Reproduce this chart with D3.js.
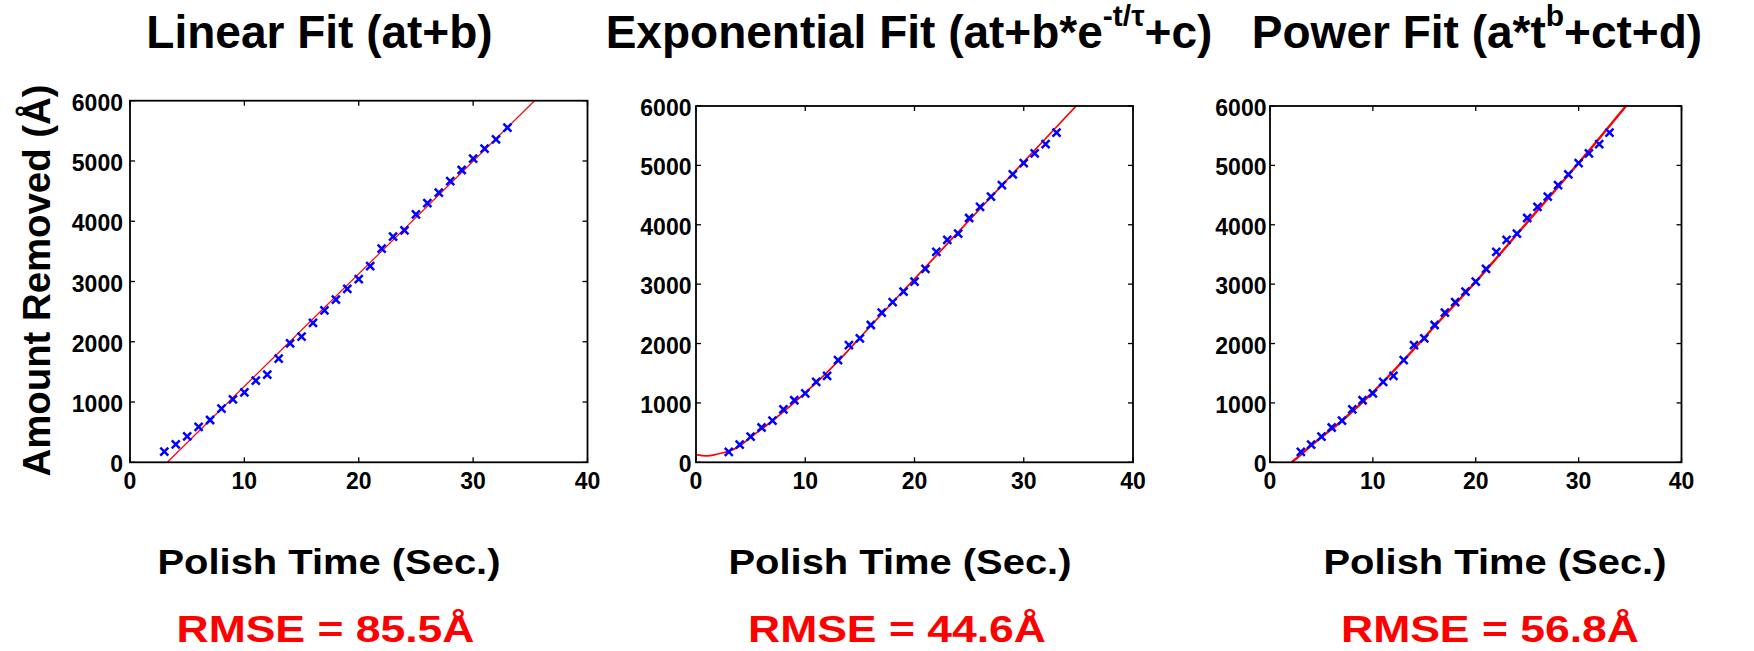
<!DOCTYPE html>
<html><head><meta charset="utf-8">
<script src="https://cdn.jsdelivr.net/npm/d3@7"></script>
<style>
body{margin:0;background:#fff}
svg{display:block}
text{font-family:"Liberation Sans",Arial,Helvetica,sans-serif;font-weight:bold;fill:#000}
</style></head><body>
<svg id="c" width="1754" height="651"></svg>
<script>
// ---- data ----
const xTicks = [0, 10, 20, 30, 40];
const yTicks = [0, 1000, 2000, 3000, 4000, 5000, 6000];
const polishTime = [3,4,5,6,7,8,9,10,11,12,13,14,15,16,17,18,19,20,21,22,23,24,25,26,27,28,29,30,31,32,33];
const amountRemoved = [177,299,431,586,702,890,1045,1161,1355,1454,1720,1974,2085,2312,2522,2699,2876,3041,3257,3545,3744,3849,4114,4302,4474,4667,4850,5038,5204,5359,5552];
const linearFitT = [3.26, 35.37];
const linearFitY = [0, 6000];
const expFitT = [0, 1, 2, 3, 4, 5, 7, 10, 13, 16, 20, 24, 28, 32, 34.8];
const expFitY = [129, 107, 140, 185, 275, 420, 700, 1170, 1700, 2300, 3088, 3876, 4664, 5452, 6000];
const powerFitT = [2.1, 3, 4, 5, 7, 10, 13, 16, 20, 25, 30, 34.6];
const powerFitY = [0, 130, 280, 425, 700, 1180, 1720, 2290, 3040, 4040, 5040, 6000];
const titles = [
  [{t:"Linear Fit (at+b)"}],
  [{t:"Exponential Fit (at+b*e"},{t:"-t/τ",sup:true},{t:"+c)"}],
  [{t:"Power Fit (a*t"},{t:"b",sup:true},{t:"+ct+d)"}]
];
const xLabel = "Polish Time (Sec.)";
const yLabel = "Amount Removed (Å)";
const rmseLabels = ["RMSE = 85.5Å", "RMSE = 44.6Å", "RMSE = 56.8Å"];

// ---- layout ----
const panels = [
  {l:130, r:587.5, t:100.7, b:462.3, fitT:linearFitT, fitY:linearFitY, fitW:1.2, titleX:319.5, xlabX:329, rmseX:325.5, ygap:7},
  {l:696, r:1133, t:106, b:462.3, fitT:expFitT, fitY:expFitY, fitW:1.7, titleX:909, xlabX:900, rmseX:897, ygap:4.5},
  {l:1270, r:1681.5, t:106, b:462.3, fitT:powerFitT, fitY:powerFitY, fitW:2.4, titleX:1477, xlabX:1495, rmseX:1490, ygap:3.5}
];

const svg = d3.select("#c");

panels.forEach((p, i) => {
  const x = d3.scaleLinear().domain([0, 40]).range([p.l, p.r]);
  const y = d3.scaleLinear().domain([0, 6000]).range([p.b, p.t]);
  const g = svg.append("g");

  const clipId = "clip" + i;
  svg.append("defs").append("clipPath").attr("id", clipId)
    .append("rect").attr("x", p.l).attr("y", p.t).attr("width", p.r - p.l).attr("height", p.b - p.t);

  // ticks (inward, all four sides)
  const tl = 5;
  xTicks.forEach(v => {
    g.append("line").attr("x1", x(v)).attr("x2", x(v)).attr("y1", p.b).attr("y2", p.b - tl).attr("stroke", "#000").attr("stroke-width", 1.3);
    g.append("line").attr("x1", x(v)).attr("x2", x(v)).attr("y1", p.t).attr("y2", p.t + tl).attr("stroke", "#000").attr("stroke-width", 1.3);
    g.append("text").attr("x", x(v)).attr("y", p.b + 27).attr("text-anchor", "middle").attr("font-size", 23).text(v);
  });
  yTicks.forEach(v => {
    g.append("line").attr("x1", p.l).attr("x2", p.l + tl).attr("y1", y(v)).attr("y2", y(v)).attr("stroke", "#000").attr("stroke-width", 1.3);
    g.append("line").attr("x1", p.r).attr("x2", p.r - tl).attr("y1", y(v)).attr("y2", y(v)).attr("stroke", "#000").attr("stroke-width", 1.3);
    g.append("text").attr("x", p.l - p.ygap).attr("y", y(v) + 10).attr("text-anchor", "end").attr("font-size", 23).text(v);
  });

  // fit line
  const fitData = p.fitT.map((t, k) => [t, p.fitY[k]]);
  g.append("path").datum(fitData)
    .attr("clip-path", `url(#${clipId})`)
    .attr("fill", "none").attr("stroke", "#ff0000").attr("stroke-width", p.fitW)
    .attr("d", d3.line().x(d => x(d[0])).y(d => y(d[1])).curve(d3.curveCatmullRom.alpha(0.5)));

  // data markers (x)
  const s = 4;
  g.selectAll(".m").data(polishTime.map((t, k) => [t, amountRemoved[k]])).enter()
    .append("path").attr("class", "m")
    .attr("d", d => {
      const cx = x(d[0]), cy = y(d[1]);
      return `M${cx - s},${cy - s}L${cx + s},${cy + s}M${cx - s},${cy + s}L${cx + s},${cy - s}`;
    })
    .attr("stroke", "#0000ff").attr("stroke-width", 2.5).attr("fill", "none");

  // box
  g.append("rect").attr("x", p.l).attr("y", p.t).attr("width", p.r - p.l).attr("height", p.b - p.t)
    .attr("fill", "none").attr("stroke", "#000").attr("stroke-width", 1.8);

  // title
  const tt = g.append("text").attr("x", p.titleX).attr("y", 48).attr("text-anchor", "middle").attr("font-size", 46);
  let shifted = false;
  titles[i].forEach(part => {
    const ts = tt.append("tspan").text(part.t);
    if (part.sup) { ts.attr("font-size", 30).attr("dy", -22); shifted = true; }
    else if (shifted) { ts.attr("dy", 22); shifted = false; }
  });

  // x label
  g.append("text").attr("x", p.xlabX).attr("y", 573.5).attr("text-anchor", "middle")
    .attr("font-size", 35).attr("textLength", 343).attr("lengthAdjust", "spacingAndGlyphs").text(xLabel);

  // RMSE
  g.append("text").attr("x", p.rmseX).attr("y", 642).attr("text-anchor", "middle")
    .attr("font-size", 37).attr("textLength", 298).attr("lengthAdjust", "spacingAndGlyphs")
    .style("fill", "#ff0000").text(rmseLabels[i]);

  if (i === 0) {
    g.append("text").attr("transform", `translate(50,${(p.t + p.b) / 2 - 1}) rotate(-90)`)
      .attr("text-anchor", "middle").attr("font-size", 39).attr("textLength", 392).attr("lengthAdjust", "spacingAndGlyphs").text(yLabel);
  }
});
</script></body></html>
